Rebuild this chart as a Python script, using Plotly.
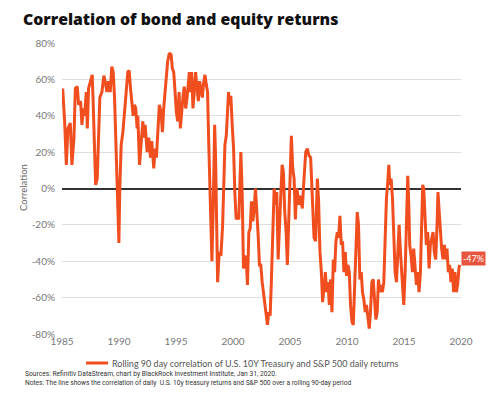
import plotly.graph_objects as go

# ---- data (decimal years, correlation in %) ----
years = [
    1985.06, 1985.23, 1985.38, 1985.52, 1985.73, 1985.87, 1986.05, 1986.17, 1986.34, 1986.46,
    1986.63, 1986.75, 1986.87, 1986.98, 1987.13, 1987.22, 1987.33, 1987.51, 1987.65, 1987.74,
    1987.86, 1987.95, 1988.09, 1988.21, 1988.32, 1988.50, 1988.67, 1988.79, 1988.94, 1989.08,
    1989.23, 1989.37, 1989.49, 1989.61, 1989.72, 1989.84, 1989.99, 1990.07, 1990.19, 1990.34,
    1990.48, 1990.63, 1990.77, 1990.89, 1991.01, 1991.12, 1991.24, 1991.36, 1991.47, 1991.59,
    1991.65, 1991.80, 1991.94, 1992.09, 1992.17, 1992.29, 1992.47, 1992.61, 1992.76, 1992.87,
    1993.05, 1993.17, 1993.28, 1993.40, 1993.54, 1993.69, 1993.81, 1993.92, 1994.04, 1994.16,
    1994.27, 1994.42, 1994.57, 1994.68, 1994.80, 1994.92, 1995.03, 1995.15, 1995.27, 1995.38,
    1995.50, 1995.62, 1995.73, 1995.85, 1995.97, 1996.08, 1996.17, 1996.26, 1996.37, 1996.49,
    1996.61, 1996.72, 1996.84, 1996.96, 1997.07, 1997.19, 1997.31, 1997.42, 1997.54, 1997.66,
    1997.77, 1997.86, 1997.98, 1998.06, 1998.15, 1998.27, 1998.39, 1998.47, 1998.56,
    1998.65, 1998.79, 1998.94, 1999.09, 1999.17, 1999.29, 1999.41, 1999.52, 1999.61, 1999.70,
    1999.81, 1999.93, 2000.05, 2000.16, 2000.28, 2000.40, 2000.51, 2000.60, 2000.69, 2000.81,
    2000.92, 2001.04, 2001.16, 2001.27, 2001.39, 2001.51, 2001.62, 2001.74, 2001.86, 2001.97,
    2002.09, 2002.21, 2002.32, 2002.44, 2002.56, 2002.67, 2002.79, 2002.91, 2003.02, 2003.14,
    2003.26, 2003.37, 2003.49, 2003.61, 2003.72, 2003.84, 2003.96, 2004.07, 2004.19, 2004.31,
    2004.42, 2004.54, 2004.66, 2004.77, 2004.89, 2005.01, 2005.12, 2005.24, 2005.36, 2005.47,
    2005.59,
    2005.65, 2005.79, 2005.94, 2006.08, 2006.23, 2006.38, 2006.52, 2006.67, 2006.81, 2006.96,
    2007.11, 2007.25, 2007.40, 2007.51, 2007.63, 2007.75, 2007.86, 2007.98, 2008.10, 2008.21,
    2008.33, 2008.45, 2008.56, 2008.68, 2008.80, 2008.91, 2009.03, 2009.15, 2009.26, 2009.38,
    2009.50, 2009.61, 2009.73, 2009.85, 2009.96, 2010.08, 2010.20, 2010.31, 2010.43, 2010.55,
    2010.66, 2010.78, 2010.90, 2011.01, 2011.13, 2011.25, 2011.36, 2011.48, 2011.60, 2011.71,
    2011.83, 2011.95, 2012.06, 2012.18, 2012.30, 2012.41, 2012.53,
    2012.65, 2012.76, 2012.88, 2013.00, 2013.11, 2013.23, 2013.35, 2013.46, 2013.58, 2013.67,
    2013.75, 2013.87, 2013.99, 2014.10, 2014.22, 2014.34, 2014.45, 2014.57, 2014.69, 2014.80,
    2014.92, 2014.98, 2015.10, 2015.21, 2015.33, 2015.42, 2015.50, 2015.62, 2015.74, 2015.85,
    2015.97, 2016.09, 2016.20, 2016.32, 2016.44, 2016.55, 2016.64, 2016.73, 2016.85, 2016.96,
    2017.08, 2017.20, 2017.31, 2017.43, 2017.55, 2017.66, 2017.78, 2017.90, 2017.98, 2018.07,
    2018.19, 2018.30, 2018.42, 2018.54, 2018.65, 2018.77, 2018.89, 2019.00, 2019.12, 2019.24,
    2019.35, 2019.47, 2019.59, 2019.70, 2019.82, 2019.88,
]

correlation_pct = [
    55, 37, 13, 33, 36, 13, 28, 55, 56, 46,
    48, 35, 44, 40, 53, 33, 55, 59, 62.5, 46,
    13, 2, 5.5, 33, 50, 53, 62, 59, 53, 59,
    53, 67, 64, 50, 28, -9, -30, 0, 24, 31,
    40, 53, 64, 65, 55, 46, 40, 46, 44, 33,
    40, 13, 28, 37, 28, 35, 20, 28, 17, 26,
    11, 22, 17, 31, 46, 42, 31, 44, 55, 62.5,
    70, 74.5, 73.6, 66, 64, 53, 42, 37, 53, 33,
    44, 51, 56, 44, 50, 61, 64, 53, 64, 44,
    57, 64, 55, 48, 59, 55, 50, 58, 62.5, 57,
    53, 28, 0, -20, -40, -9, 35, 18, -20,
    -51.5, -35, -37, -20, 0, 24, 29, 39, 53, 46,
    51, 35, 22, -2, -17, -15, -17, 2, 20, -4,
    -44, -37, -39, -53, -24, -22, -7, -18, -11, 0,
    -11, -26, -42, -42, -51.5, -57, -66, -72, -75, -68,
    -70, -50, -30, 0, -9, -2, -39, -17, -4, 13,
    9, -13, -24, -42, -13, 9, 29, 11, 5.5, -17,
    0,
    -2, -9, -4, -11, 5.5, 20, 22, 18, 17, -4,
    -27, -29, 5.5, -7, -35, -46, -62.5, -55, -46, -57,
    -51.5, -64, -50, -68, -39, -46, -29, -24, -27, -15,
    -31, -29, -46, -35, -48, -42, -46, -64, -73, -75,
    -57, -35, -13, -20, -50, -46, -57, -61, -68, -64,
    -72, -77, -68, -51.5, -50, -61, -72,
    -68, -50, -57, -53, -57, -51.5, -27, -5.5, 4, 13,
    2, 5.5, -5.5, -24, -46, -51.5, -31, -20, -35, -46,
    -57, -64, -46, -20, 7, -9, -31, -37, -46, -33,
    -44, -53, -46, -57, -46, -20, 2, 0, -20, -31,
    -24, -44, -31, -27, -24, -35, -39, -20, -2, -11,
    -24, -33, -39, -31, -39, -33, -46, -42, -51.5, -44,
    -57, -46, -57, -53, -44, -42,
]

x_ticks = [1985, 1990, 1995, 2000, 2005, 2010, 2015, 2020]
y_ticks = [-80, -60, -40, -20, 0, 20, 40, 60, 80]
y_tick_text = [f"{v}%" for v in y_ticks]
latest_label = "-47%"

series_name = "Rolling 90 day correlation of U.S. 10Y Treasury and S&P 500 daily returns"
title_text = "Correlation of bond and equity returns"
sources_text = "Sources: Refinitiv DataStream, chart by BlackRock Investment Institute, Jan 31, 2020."
notes_text = ("Notes: The line shows the correlation of daily  U.S. 10y treasury returns and "
              "S&P 500 over a rolling 90-day period")

LINE_COLOR = "#F14E1F"
FONT = "Lato, 'Open Sans', Arial, sans-serif"

# ---- geometry (window pixels; the page body adds an 8px offset) ----
OFF = 8
WIN_W, WIN_H = 500, 396
W, H = WIN_W - OFF, WIN_H - OFF
L, R, T, B = 62 - OFF, 39, 43 - OFF, 62
PW, PH = W - L - R, H - T - B


def px(x):
    return (x - OFF - L) / PW


def py(y):
    return (H - B - (y - OFF)) / PH


fig = go.Figure()
fig.add_trace(go.Scatter(
    x=years, y=correlation_pct, mode="lines", name=series_name,
    line=dict(color=LINE_COLOR, width=3), showlegend=False,
))

fig.update_layout(
    width=W, height=H,
    margin=dict(l=L, r=R, t=T, b=B, autoexpand=False),
    paper_bgcolor="white", plot_bgcolor="white",
    font=dict(family=FONT, color="#777", size=10),
    xaxis=dict(
        range=[1985, 2020], tickvals=x_ticks, ticktext=[str(v) for v in x_ticks],
        showgrid=False, zeroline=False, showline=False, ticks="",
        tickfont=dict(size=10, color="#777"),
    ),
    yaxis=dict(
        range=[-80, 80], tickvals=y_ticks, ticktext=y_tick_text,
        showgrid=True, gridcolor="#dedede", gridwidth=1,
        zeroline=True, zerolinecolor="#333", zerolinewidth=1.5,
        showline=False, ticks="", ticklabelstandoff=6,
        tickfont=dict(size=10, color="#777"),
    ),
)

annotations = [
    dict(text=title_text, xref="paper", yref="paper", x=px(21), y=py(19),
         xanchor="left", yanchor="middle", showarrow=False,
         font=dict(family="'Open Sans', Arial, sans-serif", size=15.8, color="#111",
                   weight=800)),
    dict(text="Correlation", xref="paper", yref="paper", x=px(23), y=py(188),
         xanchor="center", yanchor="middle", textangle=-90, showarrow=False,
         font=dict(size=9.5, color="#666")),
    dict(text=series_name, xref="paper", yref="paper", x=px(110), y=py(363),
         xanchor="left", yanchor="middle", showarrow=False,
         font=dict(size=9, color="#555")),
    dict(text=sources_text, xref="paper", yref="paper", x=px(23), y=py(374),
         xanchor="left", yanchor="middle", showarrow=False,
         font=dict(family="Roboto, Arial, sans-serif", size=6.7, color="#333")),
    dict(text=notes_text, xref="paper", yref="paper", x=px(23), y=py(383),
         xanchor="left", yanchor="middle", showarrow=False,
         font=dict(family="Roboto, Arial, sans-serif", size=6.6, color="#333")),
    dict(text=latest_label, xref="x", yref="y", x=years[-1], y=correlation_pct[-1],
         xanchor="left", yanchor="middle", xshift=1, yshift=6, showarrow=False,
         bgcolor="#E8553E", borderpad=1,
         font=dict(size=9, color="white")),
]
fig.update_layout(annotations=annotations)

fig.add_shape(type="line", xref="paper", yref="paper",
              x0=px(86), x1=px(108), y0=py(363), y1=py(363),
              line=dict(color=LINE_COLOR, width=3))

fig.write_html("out.html")
